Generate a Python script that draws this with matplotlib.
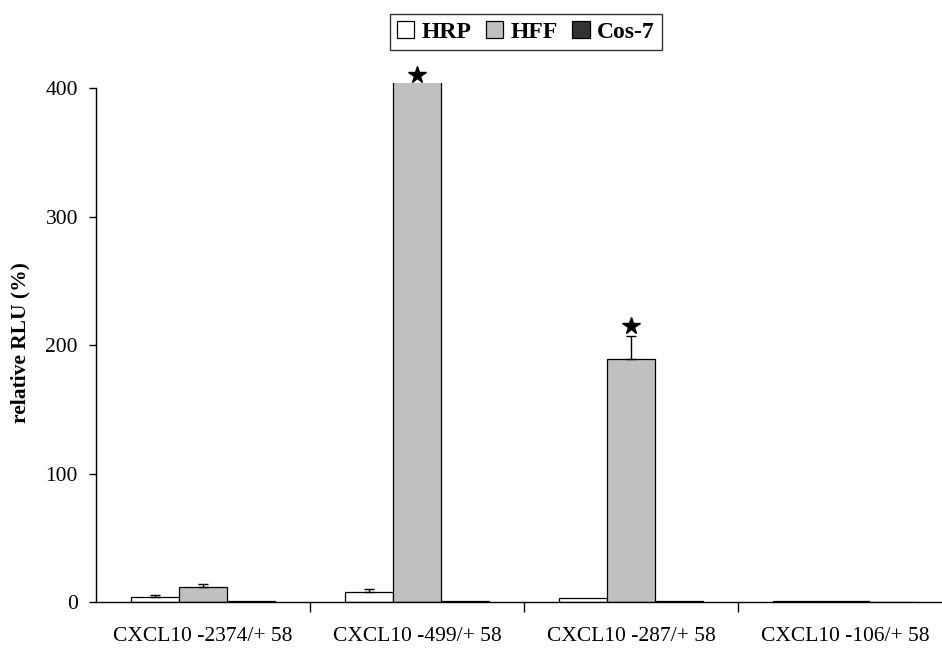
import numpy as np
import matplotlib.pyplot as plt
from matplotlib.ticker import FixedLocator, NullFormatter

constructs = ["CXCL10 -2374/+ 58", "CXCL10 -499/+ 58", "CXCL10 -287/+ 58", "CXCL10 -106/+ 58"]
series_names = ["HRP", "HFF", "Cos-7"]
hrp = [3.8, 7.8, 3.5, 0.8]
hff = [11.7, 420.0, 189.0, 0.8]
cos7 = [0.9, 0.8, 0.8, 0.2]
hrp_err = [1.5, 2.0, 0.0, 0.0]
hff_err = [2.0, 0.0, 18.0, 0.0]
cos7_err = [0.0, 0.0, 0.0, 0.0]
star_values = [None, 410, 215, None]  # significance markers above the HFF bars

plt.rcParams['font.family'] = ['Liberation Serif', 'DejaVu Serif']

fig = plt.figure(figsize=(9.42, 6.49), dpi=100)
ax = fig.add_axes([0.1019, 0.0724, 0.9087, 0.7999])

x = np.arange(len(constructs))
w = 0.225
colors = ["#ffffff", "#c0c0c0", "#333333"]
values = [hrp, hff, cos7]
errors = [hrp_err, hff_err, cos7_err]

for i, (vals, errs, c, name) in enumerate(zip(values, errors, colors, series_names)):
    pos = x + (i - 1) * w
    ax.bar(pos, vals, width=w, color=c, edgecolor="black", linewidth=0.9,
           label=name, zorder=2)
    errs_arr = np.array(errs)
    mask = errs_arr > 0
    if mask.any():
        ax.errorbar(pos[mask], np.array(vals)[mask],
                    yerr=[np.zeros(mask.sum()), errs_arr[mask]],
                    fmt="none", ecolor="black", elinewidth=1.0,
                    capsize=3.5, capthick=1.0, zorder=3)

for xi, sv in zip(x, star_values):
    if sv is not None:
        ax.plot(xi, sv, marker="*", color="black", markersize=13,
                linestyle="none", clip_on=False, zorder=4)

ax.set_xlim(-0.5, 3.5)
ax.set_ylim(0, 404)
ax.spines['left'].set_bounds(0, 400)
ax.spines['top'].set_visible(False)
ax.spines['right'].set_visible(False)
for s in ("left", "bottom"):
    ax.spines[s].set_linewidth(1.0)

ax.set_yticks([0, 100, 200, 300, 400])
ax.tick_params(axis="y", direction="out", length=5, width=1.0, labelsize=15.5, pad=8)

ax.xaxis.set_major_locator(FixedLocator([0.5, 1.5, 2.5]))
ax.xaxis.set_major_formatter(NullFormatter())
ax.xaxis.set_minor_locator(FixedLocator(x))
ax.set_xticklabels(constructs, minor=True)
ax.tick_params(axis="x", which="major", direction="out", length=7, width=1.0)
ax.tick_params(axis="x", which="minor", length=0, labelsize=15.5, pad=18)

ax.set_ylabel("relative RLU (%)", fontsize=15.5, fontweight="bold", labelpad=11)

leg = fig.legend(loc="center", bbox_to_anchor=(0.558, 0.951), ncol=3,
                 prop={"weight": "bold", "size": 17}, frameon=True,
                 fancybox=False, edgecolor="black", handlelength=0.75,
                 handleheight=0.75, handletextpad=0.3, columnspacing=0.6,
                 borderpad=0.3)
leg.get_frame().set_linewidth(1.0)

fig.savefig("out.png", dpi=100)
